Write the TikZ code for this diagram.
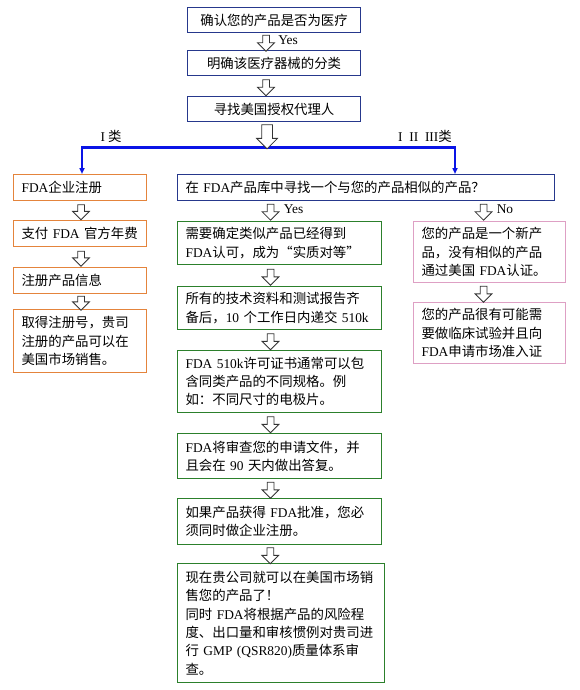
\documentclass[tikz,border=0pt]{standalone}
\usepackage{fontspec}
\setmainfont{Noto Sans CJK SC}
\newfontfamily\latinfont{Liberation Serif}
\newcommand{\en}[1]{{\latinfont #1}}
\usetikzlibrary{
	arrows.meta,
	calc,
	shapes.arrows
}
\definecolor{BoxNavy}{RGB}{38,56,140}
\definecolor{BoxOrange}{RGB}{228,132,60}
\definecolor{BoxGreen}{RGB}{44,128,44}
\definecolor{BoxPink}{RGB}{222,160,196}
\definecolor{BarBlue}{RGB}{10,20,230}

\tikzset{
	box/.style={draw, line width=1.1pt, anchor=north west, inner xsep=8pt, inner ysep=3pt,
		align=left, font=\fontsize{13.4}{18.3}\selectfont},
	topbox/.style={box, draw=BoxNavy, align=center, text width=157pt, minimum height=25pt},
	querybox/.style={box, draw=BoxNavy, text width=361pt, minimum height=26pt},
	regbox/.style={box, draw=BoxOrange, text width=117pt, minimum height=26pt},
	greenbox/.style={box, draw=BoxGreen, text width=188pt},
	pinkbox/.style={box, draw=BoxPink, text width=136pt, minimum height=61pt},
	hollow/.style={draw=black!80, fill=white, line width=0.8pt, single arrow,
		shape border rotate=270, single arrow head extend=5pt,
		minimum width=16pt, minimum height=16pt, inner sep=3pt},
	lbl/.style={font=\fontsize{13.4}{16}\selectfont\latinfont, inner sep=0pt}
}

\begin{document}
\begin{tikzpicture}[x=1pt, y=-1pt]
	\useasboundingbox (0,0) rectangle (580,690);
	% top row
	\node[topbox] (confirm) at (187,7) {确认您的产品是否为医疗};
	\node[topbox] (classify) at (187,50) {明确该医疗器械的分类};
	\node[topbox] (agent) at (187,96) {寻找美国授权代理人};
	\node[hollow] (a1) at ($(confirm.south)!.5!(classify.north)+(-8,0)$) {};
	\node[lbl, anchor=west] at ($(a1.center)+(12,-1)$) {Yes};
	\node[hollow] (a2) at ($(classify.south)!.5!(agent.north)+(-8,0)$) {};

	% class I
	\node[regbox] (firmreg) at (13,174) {\en{FDA}企业注册};
	\node[regbox] (fee) at (13,220) {支付 \en{FDA} 官方年费};
	\node[regbox] (info) at (13,267) {注册产品信息};
	\node[regbox, minimum height=63pt] (number) at (13,309) {取得注册号，贵司\\注册的产品可以在\\美国市场销售。};
	\node[hollow, minimum height=15pt] at ($(firmreg.south)!.5!(fee.north)+(1,0)$) {};
	\node[hollow, minimum height=15pt] at ($(fee.south)!.5!(info.north)+(1,0)$) {};
	\node[hollow, minimum height=14pt] at ($(info.south)!.5!(number.north)+(1,0)$) {};

	% class II and III
	\node[querybox] (search) at (177,174) {在 \en{FDA}产品库中寻找一个与您的产品相似的产品？};
	\node[greenbox, minimum height=43pt] (equal) at (177,221) {需要确定类似产品已经得到\\\en{FDA}认可，成为“实质对等”};
	\node[greenbox, minimum height=43pt] (submit) at (177,286) {所有的技术资料和测试报告齐\\备后，\en{10} 个工作日内递交 \en{510k}};
	\node[greenbox, minimum height=62pt] (permit) at (177,350) {\en{FDA 510k}许可证书通常可以包\\含同类产品的不同规格。例\\如：不同尺寸的电极片。};
	\node[greenbox, minimum height=45pt] (review) at (177,433) {\en{FDA}将审查您的申请文件，并\\且会在 \en{90} 天内做出答复。};
	\node[greenbox, minimum height=46pt] (approve) at (177,498) {如果产品获得 \en{FDA}批准，您必\\须同时做企业注册。};
	\node[greenbox, text width=191pt, minimum height=119pt] (market) at (177,563) {现在贵公司就可以在美国市场销\\售您的产品了！\\同时 \en{FDA}将根据产品的风险程\\度、出口量和审核惯例对贵司进\\行 \en{GMP (QSR820)}质量体系审\\查。};
	\node[hollow] (yes) at ($(equal.north)+(-9,-10.5)$) {};
	\node[lbl, anchor=west] at ($(yes.center)+(13,-1)$) {Yes};
	\node[hollow] at ($(equal.south)!.5!(submit.north)+(-9,0)$) {};
	\node[hollow] at ($(submit.south)!.5!(permit.north)+(-9,0)$) {};
	\node[hollow] at ($(permit.south)!.5!(review.north)+(-9,0)$) {};
	\node[hollow] at ($(review.south)!.5!(approve.north)+(-9,0)$) {};
	\node[hollow] at ($(approve.south)!.5!(market.north)+(-10,0)$) {};

	% no similar product
	\node[pinkbox] (newprod) at (413,221) {您的产品是一个新产\\品，没有相似的产品\\通过美国 \en{FDA}认证。};
	\node[pinkbox] (clinic) at (413,302) {您的产品很有可能需\\要做临床试验并且向\\\en{FDA}申请市场准入证};
	\node[hollow] (no) at ($(newprod.north)+(-6,-10.5)$) {};
	\node[lbl, anchor=west] at ($(no.center)+(13,-1)$) {No};
	\node[hollow] at ($(newprod.south)!.5!(clinic.north)+(-6,0)$) {};

	% branch bar
	\coordinate (barL) at (82,147);
	\coordinate (barR) at (455,147);
	\draw[BarBlue, line width=3pt] ($(barL)+(-1,0)$) -- ($(barR)+(1,0)$);
	\draw[BarBlue, line width=2pt, -{Triangle[width=5pt, length=6pt]}] (barL) -- (barL |- firmreg.north);
	\draw[BarBlue, line width=2pt, -{Triangle[width=5pt, length=6pt]}] (barR) -- (barR |- search.north);
	\node[lbl, font=\fontsize{13.4}{16}\selectfont] at (111,136) {\en{I} 类};
	\node[lbl, font=\fontsize{13.4}{16}\selectfont] at (425,136) {\en{I\enspace II\enspace III}类};
	\node[hollow, minimum height=24pt, minimum width=20pt, inner sep=5pt] (a3) at ($(agent.south)+(-7,12)$) {};
\end{tikzpicture}
\end{document}
